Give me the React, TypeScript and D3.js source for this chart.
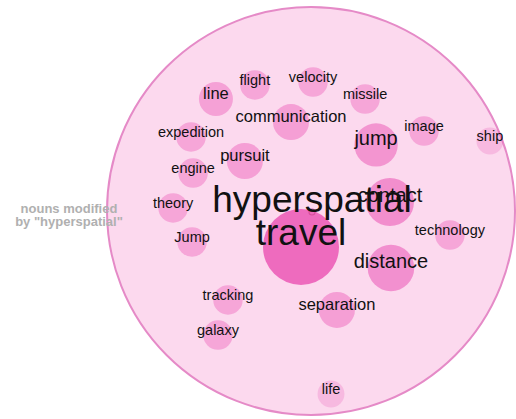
import React from "react";
import * as d3 from "d3";

// root word and the nouns it modifies
const rootWord = "hyperspatial";
const legendLines = ["nouns modified", 'by "hyperspatial"'];

const words = [
  "travel", "contact", "distance", "jump", "communication", "separation",
  "pursuit", "line", "velocity", "flight", "missile", "image", "ship",
  "expedition", "engine", "theory", "Jump", "technology", "tracking",
  "galaxy", "life",
];
const counts = [40, 16, 15, 13, 9, 9, 9, 8, 6, 6, 6, 6, 5, 6, 6, 6, 6, 6, 6, 6, 5];

// packed layout position of every node, in units of the outer radius (=100)
const layoutX = [
  -4.9, 38.7, 39.2, 31.9, -9.8, 12.7, -32.4, -46.6, 1.0, -27.5, 26.5, 55.4,
  87.7, -58.8, -57.8, -67.6, -58.3, 68.1, -40.7, -45.6, 9.8,
];
const layoutY = [
  17.6, -4.4, 27.9, -32.4, -43.6, 48.5, -24.5, -54.9, -63.2, -61.8, -54.9,
  -39.2, -34.3, -36.3, -18.6, -1.5, 15.2, 11.8, 43.6, 60.8, 89.7,
];

const W = 516;
const H = 419;
const cx = 311;
const cy = 211;
const R = 204;

export default function App() {
  const x = d3.scaleLinear().domain([-100, 100]).range([cx - R, cx + R]);
  const y = d3.scaleLinear().domain([-100, 100]).range([cy - R, cy + R]);
  const r = d3.scaleSqrt().domain([0, 40]).range([0, 38]);
  const opacity = d3
    .scaleLinear()
    .domain([5, 6, 16, 40])
    .range([0.2, 0.32, 0.48, 0.7])
    .clamp(true);
  const fontSize = d3
    .scaleThreshold<number, number>()
    .domain([7, 11, 30])
    .range([14.5, 16.5, 20, 37]);

  const nodes = words.map((w, i) => ({
    word: w,
    count: counts[i],
    x: x(layoutX[i]),
    y: y(layoutY[i]),
  }));
  const top = nodes[0];

  return (
    <svg
      width={W}
      height={H}
      style={{ position: "absolute", left: 0, top: 0 }}
      fontFamily="'Liberation Sans', Arial, sans-serif"
    >
      <rect width={W} height={H} fill="#fff" />
      <circle cx={cx} cy={cy} r={R} fill="#fcd9ee" stroke="#e58ac7" strokeWidth={2} />

      <g>
        {nodes.map((d) => (
          <circle
            key={d.word}
            cx={d.x}
            cy={d.y}
            r={r(d.count)}
            fill="rgb(232,60,170)"
            fillOpacity={opacity(d.count)}
          />
        ))}
      </g>
      <circle cx={cx + 1} cy={cy + 1} r={3} fill="none" stroke="#d8509f" strokeWidth={1.2} />

      <g fill="#111" textAnchor="middle">
        {nodes.map((d, i) =>
          i === 0 ? null : (
            <text key={d.word} x={d.x} y={d.y} fontSize={fontSize(d.count)}>
              {d.word}
            </text>
          )
        )}
        <text x={cx + 1} y={top.y - 35} fontSize={fontSize(top.count)}>
          {rootWord}
        </text>
        <text x={top.x} y={top.y - 2} fontSize={fontSize(top.count)}>
          {top.word}
        </text>
      </g>

      <g fill="#b0b0b0" fontWeight="bold" fontSize={13} textAnchor="middle">
        {legendLines.map((l, i) => (
          <text key={l} x={69} y={213 + i * 13}>
            {l}
          </text>
        ))}
      </g>
    </svg>
  );
}
